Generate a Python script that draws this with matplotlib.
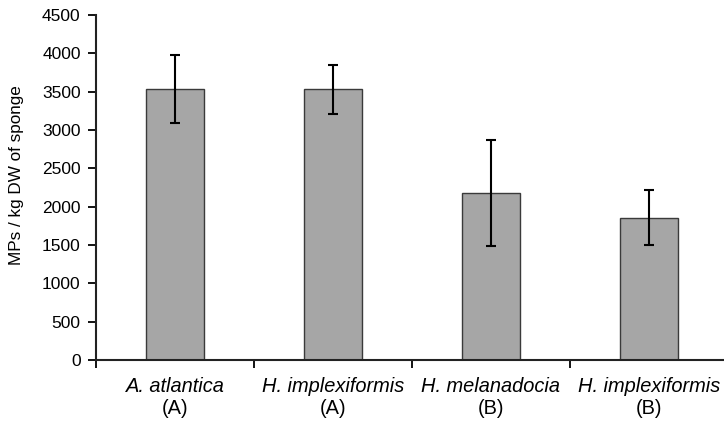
import matplotlib.pyplot as plt
import matplotlib.transforms as mtransforms

plt.rcParams['font.family'] = ['Liberation Sans', 'DejaVu Sans']

# Data
species = ['A. atlantica', 'H. implexiformis', 'H. melanadocia', 'H. implexiformis']
sites = ['(A)', '(A)', '(B)', '(B)']
means = [3530, 3538, 2181, 1855]
upper = [3977, 3850, 2868, 2216]
lower = [3086, 3211, 1490, 1499]

err_low = [m - l for m, l in zip(means, lower)]
err_high = [u - m for u, m in zip(upper, means)]

fig = plt.figure(figsize=(7.24, 4.25), dpi=100)
ax = fig.add_axes([0.1326, 0.153, 1.0055 - 0.1326, 0.9647 - 0.153])

x = list(range(len(means)))
ax.bar(x, means, width=0.37, color='#a6a6a6', edgecolor='#3a3a3a', linewidth=1.0, zorder=2)
ax.errorbar(x, means, yerr=[err_low, err_high], fmt='none', ecolor='black',
            elinewidth=1.5, capsize=3.5, capthick=1.5, zorder=3)

ax.set_xlim(-0.5, 3.5)
ax.set_ylim(0, 4500)
ax.set_yticks(range(0, 4501, 500))
ax.set_xticks([-0.5, 0.5, 1.5, 2.5, 3.5])
ax.set_xticklabels([])
ax.tick_params(axis='both', direction='out', length=6, width=1.3, labelsize=12.5, pad=5)

for side in ['top', 'right']:
    ax.spines[side].set_visible(False)
for side in ['left', 'bottom']:
    ax.spines[side].set_linewidth(1.5)
    ax.spines[side].set_color('#222222')

ax.set_ylabel('MPs / kg DW of sponge', fontsize=12.3)
ax.yaxis.set_label_coords(-0.114, 0.536)

trans = mtransforms.blended_transform_factory(ax.transData, fig.transFigure)
for i, (sp, st) in enumerate(zip(species, sites)):
    ax.text(i, 1 - 386 / 425, sp, transform=trans, ha='center', va='center',
            fontsize=14.4, style='italic')
    ax.text(i, 1 - 408 / 425, st, transform=trans, ha='center', va='center',
            fontsize=14.4)

fig.savefig('out.png', dpi=100)
